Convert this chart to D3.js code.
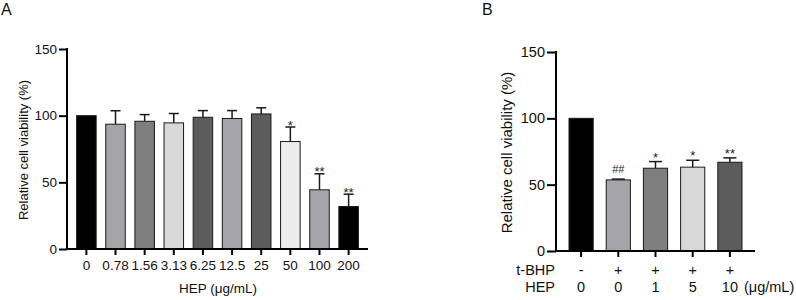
<!DOCTYPE html>
<html>
<head>
<meta charset="utf-8">
<script src="https://cdn.jsdelivr.net/npm/d3@7"></script>
<style>
  body { margin: 0; background: #fff; }
  svg { font-family: "Liberation Sans", Arial, sans-serif; }
</style>
</head>
<body>
<script>
// Panel A data
var catsA = ["0", "0.78", "1.56", "3.13", "6.25", "12.5", "25", "50", "100", "200"];
var meanA = [100, 93.6, 95.8, 94.6, 98.8, 97.9, 101.3, 80.6, 44.4, 31.9];
var errA  = [0, 10.1, 5.0, 7.0, 5.0, 5.9, 4.6, 10.9, 12.0, 9.2];
var sigA  = ["", "", "", "", "", "", "", "*", "**", "**"];
var fillA = ["#000000", "#a5a5a9", "#7e7e7e", "#d8d8d8", "#5c5c5c", "#a5a5a9", "#5c5c5c", "#ececec", "#a5a5a9", "#000000"];

// Panel B data
var tbhpB = ["-", "+", "+", "+", "+"];
var hepB  = ["0", "0", "1", "5", "10"];
var meanB = [100, 53.6, 62.4, 63.2, 66.9];
var errB  = [0, 0.6, 5.0, 5.2, 3.3];
var sigB  = ["", "##", "*", "*", "**"];
var fillB = ["#000000", "#a5a5a9", "#7e7e7e", "#d8d8d8", "#5c5c5c"];

var yTicks = [0, 50, 100, 150];

var w = 796, h = 300;
var svg = d3.select("body").append("svg")
    .attr("width", w)
    .attr("height", h);

// draws one bar panel
function panel(opt) {
    var g = svg.append("g");
    var idx = d3.range(opt.mean.length);

    var x = d3.scaleBand()
        .domain(idx)
        .range([opt.x0, opt.x1])
        .paddingInner(opt.pad)
        .paddingOuter(opt.pad);

    var y = d3.scaleLinear()
        .domain([0, 150])
        .range([opt.y0, opt.y150]);

    // bars
    g.selectAll(".bar")
        .data(idx)
        .enter()
        .append("rect")
        .attr("x", function(i) { return x(i); })
        .attr("y", function(i) { return y(opt.mean[i]); })
        .attr("width", x.bandwidth())
        .attr("height", function(i) { return y(0) - y(opt.mean[i]); })
        .attr("fill", function(i) { return opt.fill[i]; })
        .attr("stroke", "#1a1a1a")
        .attr("stroke-width", 1);

    // error bars (upper only)
    var eb = idx.filter(function(i) { return opt.err[i] > 0; });
    g.selectAll(".err")
        .data(eb)
        .enter()
        .append("line")
        .attr("x1", function(i) { return x(i) + x.bandwidth() / 2; })
        .attr("x2", function(i) { return x(i) + x.bandwidth() / 2; })
        .attr("y1", function(i) { return y(opt.mean[i]); })
        .attr("y2", function(i) { return y(opt.mean[i] + opt.err[i]); })
        .attr("stroke", "#1a1a1a")
        .attr("stroke-width", 1.5);
    g.selectAll(".cap")
        .data(eb)
        .enter()
        .append("line")
        .attr("x1", function(i) { return x(i) + x.bandwidth() / 2 - opt.cap / 2; })
        .attr("x2", function(i) { return x(i) + x.bandwidth() / 2 + opt.cap / 2; })
        .attr("y1", function(i) { return y(opt.mean[i] + opt.err[i]); })
        .attr("y2", function(i) { return y(opt.mean[i] + opt.err[i]); })
        .attr("stroke", "#1a1a1a")
        .attr("stroke-width", 1.5);

    // significance marks
    g.selectAll(".sig")
        .data(idx.filter(function(i) { return opt.sig[i]; }))
        .enter()
        .append("text")
        .attr("x", function(i) { return x(i) + x.bandwidth() / 2; })
        .attr("y", function(i) {
            var top = y(opt.mean[i] + opt.err[i]);
            return opt.sig[i][0] === "#" ? top - 6 : top + opt.starDy;
        })
        .attr("text-anchor", "middle")
        .attr("font-size", function(i) { return opt.sig[i][0] === "#" ? 11 : 13; })
        .attr("fill", "#222")
        .text(function(i) { return opt.sig[i]; });

    // y axis
    var yAxis = d3.axisLeft(y).tickValues(yTicks).tickSize(opt.yt).tickSizeOuter(0).tickPadding(2);
    var ya = g.append("g")
        .attr("transform", "translate(" + opt.x0 + ",0)")
        .call(yAxis);
    ya.select(".domain").attr("stroke-width", 2).attr("d", "M0," + (opt.y0 + 1) + "V" + (opt.y150 - 1));
    ya.selectAll(".tick line").attr("stroke-width", 2);
    ya.selectAll("text").attr("font-size", opt.fs).attr("fill", "#111").attr("font-family", null);

    // x axis
    var xAxis = d3.axisBottom(x).tickSize(6).tickSizeOuter(0)
        .tickFormat(function(i) { return opt.cats ? opt.cats[i] : ""; })
        .tickPadding(5);
    var xa = g.append("g")
        .attr("transform", "translate(0," + opt.y0 + ")")
        .call(xAxis);
    xa.select(".domain").attr("stroke-width", 2).attr("d", "M" + (opt.x0 - 1) + ",0H" + opt.x1);
    xa.selectAll(".tick line").attr("stroke-width", 2);
    xa.selectAll("text").attr("font-size", opt.fs).attr("fill", "#111").attr("font-family", null);

    // y axis title
    g.append("text")
        .attr("transform", "rotate(-90)")
        .attr("x", -(opt.y0 + opt.y150) / 2 - 1)
        .attr("y", opt.ytx)
        .attr("text-anchor", "middle")
        .attr("font-size", opt.tfs)
        .attr("fill", "#111")
        .text("Relative cell viability (%)");

    // panel letter
    g.append("text")
        .attr("x", opt.lx)
        .attr("y", 15)
        .attr("font-size", 16)
        .attr("fill", "#111")
        .text(opt.letter);

    return x;
}

var xA = panel({
    letter: "A", lx: 1,
    mean: meanA, err: errA, sig: sigA, fill: fillA, cats: catsA,
    x0: 67, x1: 368, pad: 0.33, cap: 10, starDy: 2.5,
    y0: 249, y150: 49, fs: 13.5, tfs: 13, ytx: 28, yt: 8
});

svg.append("text")
    .attr("x", 218)
    .attr("y", 293)
    .attr("text-anchor", "middle")
    .attr("font-size", 13.5)
    .attr("fill", "#111")
    .text("HEP (\u03bcg/mL)");

var xB = panel({
    letter: "B", lx: 482,
    mean: meanB, err: errB, sig: sigB, fill: fillB, cats: null,
    x0: 556, x1: 755, pad: 0.35, cap: 13, starDy: 0,
    y0: 251, y150: 52, fs: 14.5, tfs: 15, ytx: 512, yt: 9
});

// panel B condition rows
var rows = [["t-BHP", tbhpB, 275], ["HEP", hepB, 292]];
rows.forEach(function(r) {
    svg.append("text")
        .attr("x", 555)
        .attr("y", r[2])
        .attr("text-anchor", "end")
        .attr("font-size", 14.5)
        .attr("fill", "#111")
        .text(r[0]);
    svg.selectAll(".row" + r[0])
        .data(r[1])
        .enter()
        .append("text")
        .attr("x", function(d, i) { return xB(i) + xB.bandwidth() / 2; })
        .attr("y", r[2])
        .attr("text-anchor", "middle")
        .attr("font-size", 14.5)
        .attr("fill", "#111")
        .text(function(d) { return d; });
});

svg.append("text")
    .attr("x", 744)
    .attr("y", 292)
    .attr("font-size", 14.5)
    .attr("fill", "#111")
    .text("(\u03bcg/mL)");
</script>
</body>
</html>
